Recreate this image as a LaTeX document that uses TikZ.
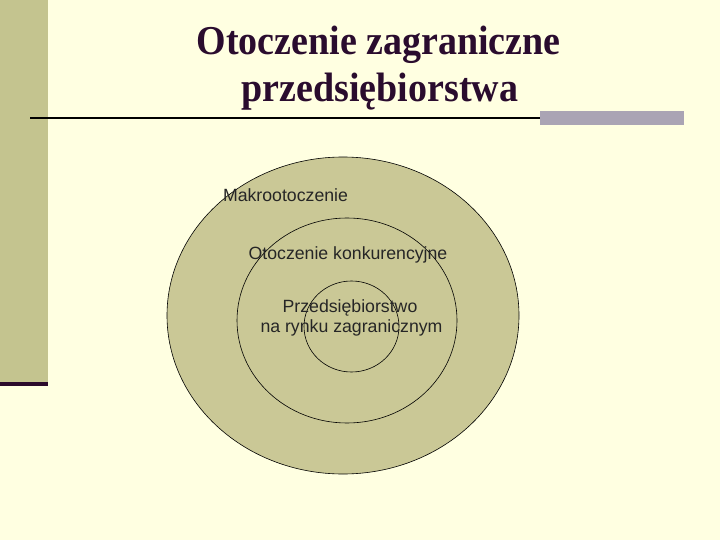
\documentclass[tikz,border=0pt]{standalone}
\usepackage{fontspec}
\setmainfont{Liberation Serif}
\newfontfamily\arialfont{Liberation Sans}
\usetikzlibrary{shapes.geometric}
\definecolor{bgc}{RGB}{255,255,225}
\definecolor{bandc}{RGB}{196,196,143}
\definecolor{fillc}{RGB}{202,200,150}
\definecolor{titlec}{RGB}{42,12,46}
\definecolor{darkbar}{RGB}{43,10,43}
\definecolor{grayc}{RGB}{170,164,180}
\tikzset{
  ring/.style={ellipse, draw=black, line width=0.6pt, fill=fillc, inner sep=0pt},
  lbl/.style={anchor=base, inner sep=0pt, font=\arialfont\fontsize{17.7}{21}\selectfont, text=black!85},
  ttl/.style={anchor=base, inner sep=0pt, text=titlec, font=\bfseries\fontsize{38}{40}\selectfont}
}
\begin{document}
\begin{tikzpicture}[x=1pt,y=-1pt]
\useasboundingbox (0,0) rectangle (720,540);
\fill[bgc] (0,0) rectangle (720,540);
\fill[bandc] (0,0) rectangle (48,382);
\fill[darkbar] (0,382) rectangle (48,386);
\node[ttl] (t1) at (378.5,55) {\scalebox{1}[1.08]{Otoczenie zagraniczne}};
\node[ttl] (t2) at (380,102) {\scalebox{1}[1.08]{przedsiębiorstwa}};
\coordinate (la) at (30,118);
\coordinate (lb) at (540,118);
\draw[line width=2.2pt, black] (la) -- (lb);
\fill[grayc] (540,111.5) rectangle (683.5,125.5);
\node[ring, minimum width=352pt, minimum height=317pt] (outer) at (343,315.5) {};
\node[ring, minimum width=220pt, minimum height=205pt] (mid) at (347,320.5) {};
\node[ring, minimum width=95pt, minimum height=91pt] (inner) at (351.5,326.5) {};
\node[lbl] (makro) at (285.5,202) {Makrootoczenie};
\node[lbl] (konk) at (348,259) {Otoczenie konkurencyjne};
\node[lbl] (p1) at (350,312) {Przedsiębiorstwo};
\node[lbl] (p2) at (351.5,332.5) {na rynku zagranicznym};
\end{tikzpicture}
\end{document}
